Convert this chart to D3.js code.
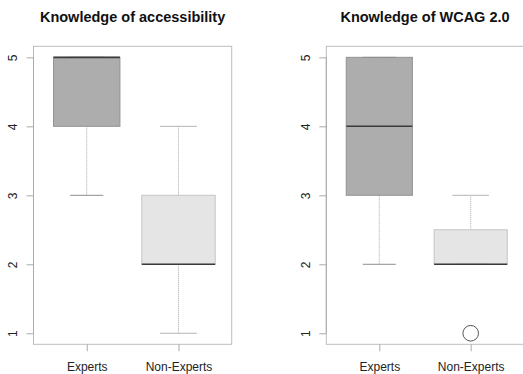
<!DOCTYPE html>
<html>
<head>
<meta charset="utf-8">
<script src="https://cdn.jsdelivr.net/npm/d3@7"></script>
<style>
  html, body { margin: 0; padding: 0; background: #fff; }
  svg { display: block; font-family: "Liberation Sans", Arial, Helvetica, sans-serif; }
</style>
</head>
<body>
<svg id="chart" width="523" height="374"></svg>
<script>
// Group labels and sizes (box width scales with sqrt of group size)
const groups = ["Experts", "Non-Experts"];
const groupSize = [9, 11];
const yTicks = [1, 2, 3, 4, 5];

// Five-number summaries per panel: [lowerWhisker, q1, median, q3, upperWhisker]
const accessibilityStats = [
  [3, 4, 5, 5, 5],
  [1, 2, 2, 3, 4]
];
const accessibilityOutliers = [[], []];

const wcagStats = [
  [2, 3, 4, 5, 5],
  [2, 2, 2, 2.5, 3]
];
const wcagOutliers = [[], [1]];

const panelTitles = ["Knowledge of accessibility", "Knowledge of WCAG 2.0"];
const fills = ["#adadad", "#e5e5e5"];

const svg = d3.select("#chart");
const plotTop = 46.3, plotBottom = 344.3;
const panels = [
  { left: 33.5, right: 231.7, stats: accessibilityStats, outliers: accessibilityOutliers, title: panelTitles[0] },
  { left: 326.3, right: 523.7, stats: wcagStats, outliers: wcagOutliers, title: panelTitles[1] }
];

const maxN = d3.max(groupSize);

panels.forEach(p => {
  const g = svg.append("g");
  const x = d3.scaleLinear().domain([0.42, 2.58]).range([p.left, p.right]);
  const y = d3.scaleLinear().domain([0.84, 5.16]).range([plotBottom, plotTop]);

  // plot frame
  g.append("rect")
    .attr("x", p.left).attr("y", plotTop)
    .attr("width", p.right - p.left).attr("height", plotBottom - plotTop)
    .attr("fill", "none").attr("stroke", "#bdbdbd").attr("stroke-width", 1);

  // y axis
  const yAxis = d3.axisLeft(y).tickValues(yTicks).tickSize(7).tickFormat(d3.format("d"));
  const ya = g.append("g").attr("transform", `translate(${p.left},0)`).call(yAxis);
  ya.select(".domain").attr("d", `M0,${y(1)}V${y(5)}`).attr("stroke", "#aaa");
  ya.selectAll(".tick line").attr("stroke", "#aaa");
  ya.selectAll(".tick text")
    .attr("font-size", 12).attr("fill", "#222")
    .attr("text-anchor", "middle")
    .attr("x", null)
    .attr("transform", "translate(-20.5,0) rotate(-90)")
    .attr("dy", "0.35em");

  // x axis
  const xAxis = d3.axisBottom(x).tickValues([1, 2]).tickSize(7).tickPadding(10)
    .tickFormat((d, i) => groups[i]);
  const xa = g.append("g").attr("transform", `translate(0,${plotBottom})`).call(xAxis);
  xa.select(".domain").remove();
  xa.selectAll(".tick line").attr("stroke", "#aaa");
  xa.selectAll(".tick text").attr("font-size", 12).attr("fill", "#222").attr("dy", "0.8em");

  // boxes
  p.stats.forEach((s, i) => {
    const cx = x(i + 1);
    const bw = 0.8 * Math.sqrt(groupSize[i] / maxN);
    const hw = (x(bw / 2) - x(0));
    const [lo, q1, med, q3, hi] = s;

    // whiskers (dashed)
    g.append("line").attr("x1", cx).attr("x2", cx).attr("y1", y(q3)).attr("y2", y(hi))
      .attr("stroke", "#aaa").attr("stroke-dasharray", "1,1");
    g.append("line").attr("x1", cx).attr("x2", cx).attr("y1", y(q1)).attr("y2", y(lo))
      .attr("stroke", "#aaa").attr("stroke-dasharray", "1,1");

    // box
    g.append("rect")
      .attr("x", cx - hw).attr("y", y(q3))
      .attr("width", 2 * hw).attr("height", y(q1) - y(q3))
      .attr("fill", fills[i]).attr("stroke", i === 0 ? "#939393" : "#c4c4c4").attr("stroke-width", 1);

    // staples
    [lo, hi].forEach(v => {
      g.append("line").attr("x1", cx - hw / 2).attr("x2", cx + hw / 2)
        .attr("y1", y(v)).attr("y2", y(v))
        .attr("stroke", i === 0 ? "#8e8e8e" : "#b5b5b5").attr("stroke-width", 1);
    });

    // median
    g.append("line").attr("x1", cx - hw).attr("x2", cx + hw)
      .attr("y1", y(med)).attr("y2", y(med))
      .attr("stroke", "#3a3a3a").attr("stroke-width", 1.6);

    // outliers
    p.outliers[i].forEach(v => {
      g.append("circle").attr("cx", cx).attr("cy", y(v)).attr("r", 7.8)
        .attr("fill", "none").attr("stroke", "#555").attr("stroke-width", 1);
    });
  });

  // title
  svg.append("text")
    .attr("x", (p.left + p.right) / 2).attr("y", 22)
    .attr("text-anchor", "middle")
    .attr("font-size", 14.5).attr("font-weight", "bold").attr("fill", "#111")
    .text(p.title);
});
</script>
</body>
</html>
